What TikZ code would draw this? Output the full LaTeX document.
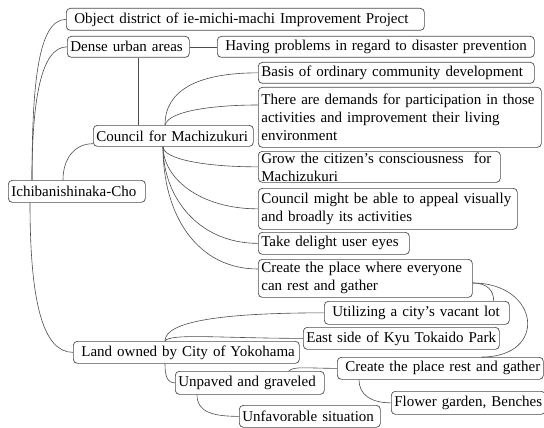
\documentclass[tikz,border=0pt]{standalone}
\usepackage{fontspec}
\setmainfont{Liberation Serif}
\begin{document}
\begin{tikzpicture}[x=1pt,y=-1pt,
    topic/.style={
      draw=black!70,
      line width=0.7pt,
      rounded corners=4pt,
      anchor=north west,
      align=left,
      inner xsep=3pt,
      inner ysep=0pt,
      font=\fontsize{15}{18}\selectfont
    },
    link/.style={draw=black!70, line width=0.6pt}
  ]
  \useasboundingbox (0,0) rectangle (544,428);
  % left column
  \node[topic,text width=352pt,minimum height=22pt] (obj) at (66,8) {\ Object district of ie-michi-machi Improvement Project};
  \node[topic,text width=116pt,minimum height=21pt] (dense) at (67,36) {Dense urban areas};
  \node[topic,text width=311pt,minimum height=21pt] (having) at (217,36) {\ Having problems in regard to disaster prevention};
  \node[topic,text width=154pt,minimum height=21pt] (council) at (93,125) {Council for Machizukuri};
  \node[topic,text width=131pt,minimum height=22pt] (ichi) at (8,180) {Ichibanishinaka-Cho};
  \node[topic,text width=220pt,minimum height=22pt] (land) at (73,341) {\ Land owned by City of Yokohama};
  % council branches
  \node[topic,text width=270pt,minimum height=21pt] (basis) at (258,62) {Basis of ordinary community development};
  \node[topic,text width=277pt,minimum height=60pt] (demands) at (258,87) {There are demands for participation in those\\activities and improvement their living\\environment};
  \node[topic,text width=236pt,minimum height=31pt] (grow) at (258,151) {Grow the citizen’s consciousness\ \ for\\Machizukuri};
  \node[topic,text width=253pt,minimum height=41pt] (appeal) at (258,188) {Council might be able to appeal visually\\and broadly its activities};
  \node[topic,text width=145pt,minimum height=22pt] (delight) at (258,232) {Take delight user eyes};
  \node[topic,text width=208pt,minimum height=38pt] (where) at (258,259) {Create the place where everyone\\can rest and gather};
  % land branches
  \node[topic,text width=179pt,minimum height=23pt] (vacant) at (324,301) {\ Utilizing a city’s vacant lot};
  \node[topic,text width=190pt,minimum height=22pt] (east) at (303,327) {East side of Kyu Tokaido Park};
  \node[topic,text width=200pt,minimum height=22pt] (rest) at (337,357) {\ Create the place rest and gather};
  \node[topic,text width=143pt,minimum height=23pt] (unpaved) at (175,371) {Unpaved and graveled};
  \node[topic,text width=148pt,minimum height=23pt] (flower) at (391,391) {Flower garden, Benches};
  \node[topic,text width=135pt,minimum height=22pt] (unfav) at (239,405) {Unfavorable situation};
  % connectors
  \draw[link] ([xshift=24pt]ichi.north west) .. controls +(0,-95) and +(-28,0) .. (obj.west);
  \draw[link] ([xshift=24pt]ichi.north west) .. controls +(0,-80) and +(-26,0) .. (dense.west);
  \draw[link] ([xshift=55pt]ichi.north west) .. controls +(0,-22) and +(-18,0) .. ([yshift=3pt]council.south west);
  \draw[link] ([xshift=22pt]ichi.south west) .. controls +(0,100) and +(-30,0) .. (land.west);
  \draw[link] (dense.east) -- (having.west);
  \draw[link] ([xshift=71pt]dense.south west) -- ([xshift=71pt]dense.south west |- council.north);
  \draw[link] ([xshift=72pt]council.north west) .. controls +(0,-35) and +(-60,0) .. (basis.west);
  \draw[link] ([xshift=72pt]council.north west) .. controls +(4,-15) and +(-40,0) .. ([yshift=-18pt]demands.north west);
  \draw[link] ([xshift=70pt]council.south west) .. controls +(0,12) and +(-55,0) .. (grow.west);
  \draw[link] ([xshift=70pt]council.south west) .. controls +(0,30) and +(-60,0) .. (appeal.west);
  \draw[link] ([xshift=70pt]council.south west) .. controls +(0,50) and +(-60,0) .. (delight.west);
  \draw[link] ([xshift=70pt]council.south west) .. controls +(0,70) and +(-60,0) .. ([yshift=-10pt]where.north west);
  \draw[link] ([yshift=-24pt]where.north east) .. controls +(15,0) and +(0,-10) .. ([xshift=-16pt]vacant.north east);
  \draw[link] ([yshift=-24pt]where.north east) .. controls +(67,0) and +(67,0) .. ([xshift=-62pt]rest.north east);
  \draw[link] ([xshift=92pt]land.north west) .. controls +(0,-20) and +(-100,0) .. (vacant.west);
  \draw[link] ([xshift=92pt]land.north west) .. controls +(5,-8) and +(-80,0) .. (east.west);
  \draw[link] ([xshift=92pt]land.south west) .. controls +(0,12) and +(-8,0) .. (unpaved.west);
  \draw[link] ([xshift=22pt]unpaved.south west) .. controls +(0,18) and +(-25,0) .. (unfav.west);
  \draw[link] ([xshift=-36pt]unpaved.north east) .. controls +(5,-5) and +(-30,0) .. (rest.west);
  \draw[link] ([xshift=22pt]rest.south west) .. controls +(0,15) and +(-20,0) .. (flower.west);
\end{tikzpicture}
\end{document}
